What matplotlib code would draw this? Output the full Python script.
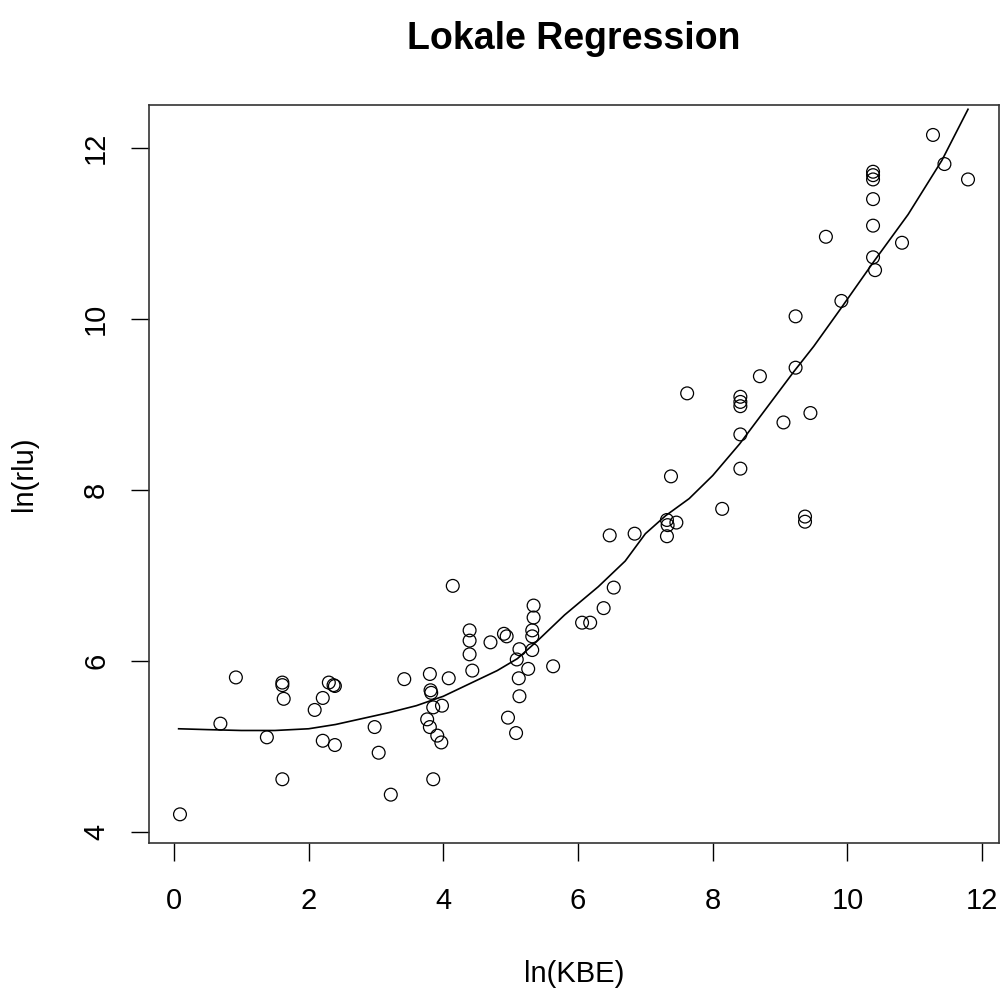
import matplotlib
matplotlib.use("Agg")
import matplotlib.pyplot as plt

plt.rcParams['font.family'] = ['Liberation Sans', 'DejaVu Sans']

# Messpunkte (ln(KBE), ln(rlu))
kbe = [0.09, 0.69, 0.92, 1.38, 1.61, 1.61, 1.63, 1.61, 2.09, 2.21,
       2.21, 2.30, 2.37, 2.39, 2.39, 2.98, 3.04, 3.22, 3.42, 3.80,
       3.81, 3.82, 3.85, 3.98, 3.76, 3.80, 3.91, 3.97, 3.85, 4.08,
       4.14, 4.39, 4.39, 4.39, 4.43, 4.70, 4.90, 4.94, 4.96, 5.08,
       5.13, 5.12, 5.09, 5.13, 5.26, 5.32, 5.32, 5.32, 5.34, 5.34,
       5.63, 6.06, 6.18, 6.38, 6.53, 6.47, 6.84, 7.32, 7.33, 7.46,
       7.32, 7.38, 7.62, 8.14, 8.41, 8.41, 8.41, 8.41, 8.41, 8.70,
       9.05, 9.23, 9.45, 9.37, 9.37, 9.23, 9.91, 9.68, 10.38, 10.38,
       10.38, 10.38, 10.38, 10.38, 10.41, 10.81, 11.27, 11.44, 11.79]
rlu = [4.21, 5.27, 5.81, 5.11, 5.75, 5.72, 5.56, 4.62, 5.43, 5.57,
       5.07, 5.75, 5.72, 5.71, 5.02, 5.23, 4.93, 4.44, 5.79, 5.85,
       5.66, 5.63, 5.46, 5.48, 5.32, 5.23, 5.13, 5.05, 4.62, 5.80,
       6.88, 6.36, 6.24, 6.08, 5.89, 6.22, 6.32, 6.29, 5.34, 5.16,
       5.59, 5.80, 6.02, 6.14, 5.91, 6.13, 6.29, 6.36, 6.51, 6.65,
       5.94, 6.45, 6.45, 6.62, 6.86, 7.47, 7.49, 7.65, 7.59, 7.62,
       7.46, 8.16, 9.13, 7.78, 9.09, 9.03, 8.98, 8.65, 8.25, 9.33,
       8.79, 9.43, 8.90, 7.69, 7.63, 10.03, 10.21, 10.96, 11.72, 11.68,
       11.63, 11.40, 11.09, 10.72, 10.57, 10.89, 12.15, 11.81, 11.63]

# Lokale Regression
curve_x = [0.07, 0.5, 1.0, 1.5, 2.0, 2.4, 2.8, 3.2, 3.6, 4.0,
           4.4, 4.8, 5.1, 5.4, 5.8, 6.3, 6.7, 7.0, 7.3, 7.65,
           8.0, 8.4, 8.8, 9.2, 9.5, 9.9, 10.4, 10.9, 11.4, 11.79]
curve_y = [5.21, 5.20, 5.19, 5.19, 5.21, 5.26, 5.33, 5.40, 5.48, 5.59,
           5.74, 5.89, 6.03, 6.24, 6.54, 6.87, 7.17, 7.49, 7.70, 7.90,
           8.17, 8.54, 8.96, 9.38, 9.68, 10.12, 10.68, 11.22, 11.85, 12.45]

fig = plt.figure(figsize=(10.03, 9.92), dpi=100)
ax = fig.add_axes([149 / 1003, 1 - 843 / 992, 850 / 1003, 738 / 992])

ax.scatter(kbe, rlu, s=85, facecolors='none', edgecolors='black', linewidths=0.9)
ax.plot(curve_x, curve_y, color='black', linewidth=1.2)

ax.set_xlim(-0.37, 12.25)
ax.set_ylim(3.875, 12.5)
ax.set_xticks([0, 2, 4, 6, 8, 10, 12])
ax.set_yticks([4, 6, 8, 10, 12])
ax.tick_params(axis='both', direction='out', length=13, width=1.0, labelsize=21, colors='black')
ax.tick_params(axis='x', pad=19)
ax.tick_params(axis='y', pad=15)
for lbl in ax.get_yticklabels():
    lbl.set_rotation(90)
    lbl.set_va('center')
for sp in ax.spines.values():
    sp.set_linewidth(1.2)
    sp.set_color('#333333')

ax.set_xlabel('ln(KBE)', fontsize=21, labelpad=32)
ax.set_ylabel('ln(rlu)', fontsize=21, labelpad=32)
ax.set_title('Lokale Regression', fontsize=27, fontweight='bold', pad=40)

fig.savefig('out.png', dpi=100)
